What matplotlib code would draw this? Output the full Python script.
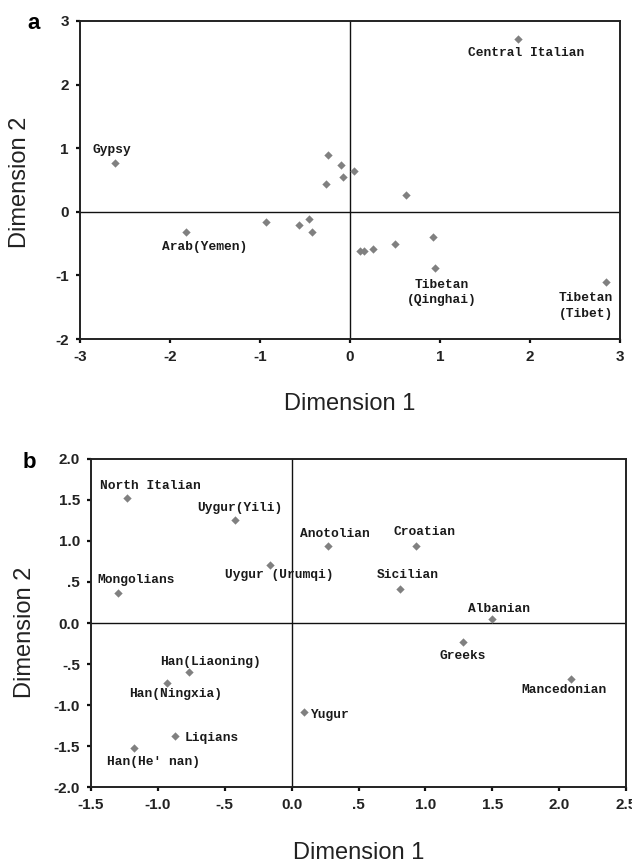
import matplotlib.pyplot as plt
from matplotlib.ticker import FixedLocator, FixedFormatter

# ── panel a data ──
a_x = [-2.61, 1.87, -1.82, -0.24, -0.10, -0.08, 0.04, -0.27, 0.62,
       -0.93, -0.57, -0.46, -0.42, 0.11, 0.15, 0.26, 0.50, 0.92, 0.94, 2.85]
a_y = [0.77, 2.72, -0.31, 0.90, 0.73, 0.54, 0.64, 0.43, 0.27,
       -0.16, -0.20, -0.11, -0.31, -0.62, -0.62, -0.58, -0.51, -0.40, -0.89, -1.10]
a_names = ["Gypsy", "Central Italian", "Arab(Yemen)", "Tibetan\n(Qinghai)", "Tibetan\n(Tibet)"]
a_lab_pos = [(-2.86, 0.97, "left"), (1.96, 2.50, "center"), (-1.62, -0.55, "center"),
             (1.02, -1.27, "center"), (2.62, -1.48, "center")]

# ── panel b data ──
b_names = ["North Italian", "Uygur(Yili)", "Anotolian", "Croatian", "Uygur (Urumqi)",
           "Sicilian", "Mongolians", "Albanian", "Greeks", "Mancedonian",
           "Han(Liaoning)", "Han(Ningxia)", "Yugur", "Liqians", "Han(He' nan)"]
b_x = [-1.23, -0.42, 0.27, 0.93, -0.16, 0.81, -1.30, 1.50, 1.28, 2.09,
       -0.77, -0.93, 0.09, -0.87, -1.18]
b_y = [1.53, 1.26, 0.94, 0.94, 0.71, 0.42, 0.37, 0.05, -0.23, -0.68,
       -0.60, -0.73, -1.09, -1.38, -1.53]
b_lab_pos = [(-1.43, 1.67, "left"), (-0.39, 1.40, "center"), (0.32, 1.08, "center"),
             (0.99, 1.11, "center"), (-0.09, 0.58, "center"), (0.87, 0.58, "center"),
             (-1.45, 0.52, "left"), (1.55, 0.17, "center"), (1.28, -0.40, "center"),
             (2.04, -0.82, "center"), (-0.61, -0.48, "center"), (-0.87, -0.87, "center"),
             (0.14, -1.12, "left"), (-0.80, -1.40, "left"), (-1.03, -1.70, "center")]

GREY = '#808080'
LABEL_FONT = dict(family='Liberation Mono', fontsize=9.3, fontweight='bold', color='#1a1a1a')

fig = plt.figure(figsize=(6.32, 8.66), dpi=100, facecolor='white')


def style(ax, xt, xtl, yt, ytl, xlim, ylim, xlab_y, ylab_x, ylab_y):
    ax.set_xlim(*xlim); ax.set_ylim(*ylim)
    ax.axhline(0, color='#111111', lw=1.0, zorder=1)
    ax.axvline(0, color='#111111', lw=1.0, zorder=1)
    ax.xaxis.set_major_locator(FixedLocator(xt))
    ax.xaxis.set_major_formatter(FixedFormatter(xtl))
    ax.yaxis.set_major_locator(FixedLocator(yt))
    ax.yaxis.set_major_formatter(FixedFormatter(ytl))
    ax.tick_params(direction='out', length=3, width=1.6, pad=5, color='#111111')
    for lab in ax.get_xticklabels() + ax.get_yticklabels():
        lab.set_family('Liberation Sans'); lab.set_fontsize(11)
        lab.set_fontweight('bold'); lab.set_color('#222222')
    for s in ax.spines.values():
        s.set_linewidth(1.4); s.set_color('#222222')
    xl = ax.set_xlabel("Dimension 1", family='Liberation Sans', fontsize=17, color='#222222')
    yl = ax.set_ylabel("Dimension 2", family='Liberation Sans', fontsize=17, color='#222222')
    ax.xaxis.set_label_coords(0.5, xlab_y)
    ax.yaxis.set_label_coords(ylab_x, ylab_y)
    xl.set_va('center'); yl.set_va('center')


# ── Panel a ──
ax1 = fig.add_axes([0.1266, 0.6085, 0.8544, 0.3673])
ax1.scatter(a_x, a_y, marker='D', s=18, color=GREY, zorder=3, linewidths=0)
style(ax1, [-3, -2, -1, 0, 1, 2, 3], ['-3', '-2', '-1', '0', '1', '2', '3'],
      [-2, -1, 0, 1, 2, 3], ['-2', '-1', '0', '1', '2', '3'], (-3, 3), (-2, 3),
      -0.204, -0.111, 0.494)
for txt, (x, y, ha) in zip(a_names, a_lab_pos):
    ax1.text(x, y, txt, ha=ha, va='center', linespacing=1.4, **LABEL_FONT)
fig.text(0.044, 0.973, 'a', fontsize=16, fontweight='bold', family='Liberation Sans',
         ha='left', va='center')

# ── Panel b ──
ax2 = fig.add_axes([0.144, 0.0912, 0.8465, 0.3788])
ax2.scatter(b_x, b_y, marker='D', s=18, color=GREY, zorder=3, linewidths=0)
style(ax2, [-1.5, -1.0, -0.5, 0, 0.5, 1.0, 1.5, 2.0, 2.5],
      ['-1.5', '-1.0', '-.5', '0.0', '.5', '1.0', '1.5', '2.0', '2.5'],
      [-2.0, -1.5, -1.0, -0.5, 0, 0.5, 1.0, 1.5, 2.0],
      ['-2.0', '-1.5', '-1.0', '-.5', '0.0', '.5', '1.0', '1.5', '2.0'],
      (-1.5, 2.5), (-2.0, 2.0), -0.201, -0.123, 0.473)
for txt, (x, y, ha) in zip(b_names, b_lab_pos):
    ax2.text(x, y, txt, ha=ha, va='center', **LABEL_FONT)
fig.text(0.035, 0.466, 'b', fontsize=16, fontweight='bold', family='Liberation Sans',
         ha='left', va='center')

plt.savefig('out.png', dpi=100, facecolor='white')
